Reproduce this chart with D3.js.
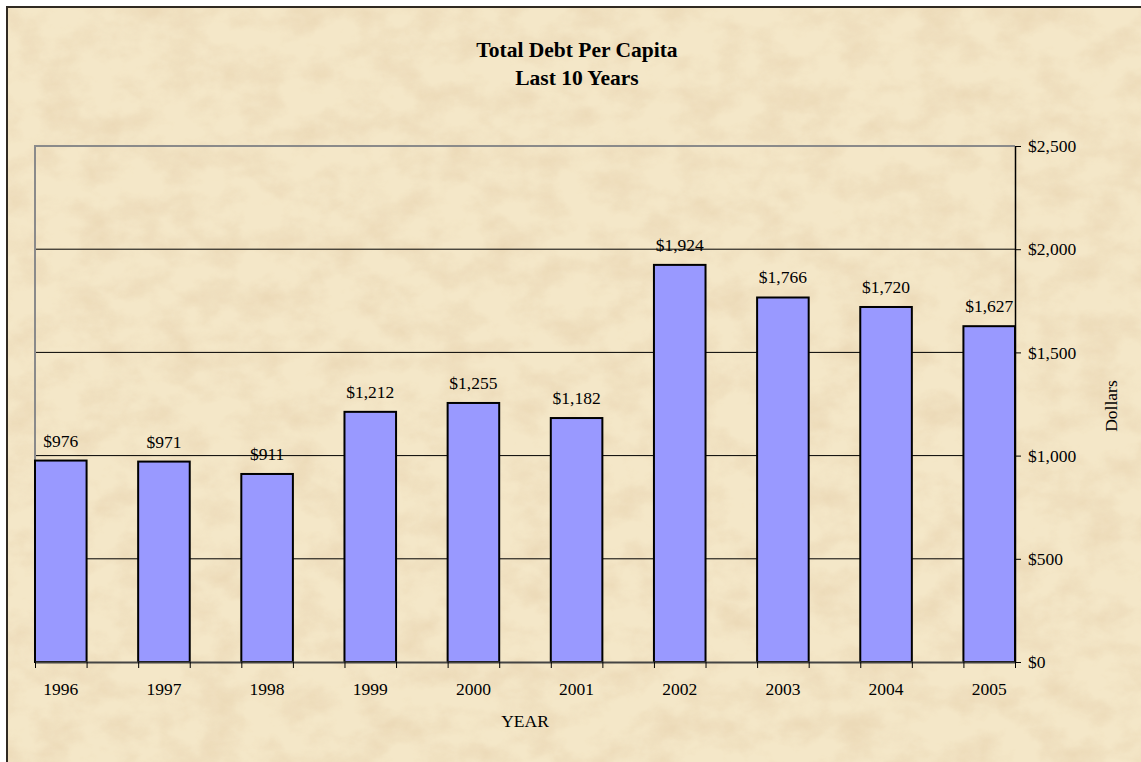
<html>
<head>
<meta charset="utf-8">
<script src="https://d3js.org/d3.v7.min.js"></script>
<style>
  body { margin: 0; background: white; }
  text { font-family: "Liberation Serif", "Times New Roman", serif; fill: #000; }
</style>
</head>
<body>
<svg id="chart" width="1141" height="762"></svg>
<script>
// data
var years = ["1996", "1997", "1998", "1999", "2000", "2001", "2002", "2003", "2004", "2005"];
var debt = [976, 971, 911, 1212, 1255, 1182, 1924, 1766, 1720, 1627];
var yTicks = [0, 500, 1000, 1500, 2000, 2500];
var title = ["Total Debt Per Capita", "Last 10 Years"];

var svg = d3.select("#chart");
var plotL = 35, plotR = 1015, plotT = 146, plotB = 662;
var fs = "17.5px";

// parchment background
var defs = svg.append("defs");
var f = defs.append("filter").attr("id", "paper")
  .attr("x", 0).attr("y", 0).attr("width", "100%").attr("height", "100%");
f.append("feTurbulence").attr("type", "fractalNoise")
  .attr("baseFrequency", "0.025 0.035").attr("numOctaves", 5).attr("seed", 7);
f.append("feColorMatrix").attr("type", "matrix")
  .attr("values", "0 0 0 0 0.82  0 0 0 0 0.67  0 0 0 0 0.45  0 0 0 -2 1.25");
f.append("feComposite").attr("in2", "SourceGraphic").attr("operator", "in");

svg.append("rect").attr("x", 6).attr("y", 6).attr("width", 1141).attr("height", 762)
  .attr("fill", "#f4e7c8");
svg.append("rect").attr("x", 6).attr("y", 6).attr("width", 1141).attr("height", 762)
  .attr("fill", "#f4e7c8").attr("filter", "url(#paper)").attr("opacity", 0.75);
svg.append("path").attr("d", "M7,762V7H1141")
  .attr("fill", "none").attr("stroke", "#302a22").attr("stroke-width", 2);

// 19 slots, bars on even slots (excel style)
var x = d3.scaleLinear().domain([0, years.length * 2 - 1]).range([plotL, plotR]);
var y = d3.scaleLinear().domain([0, 2500]).range([plotB, plotT]);

// gridlines
svg.append("g").selectAll("line")
  .data(yTicks.slice(1, -1))
  .enter().append("line")
  .attr("x1", plotL).attr("x2", plotR)
  .attr("y1", function(d) { return y(d); })
  .attr("y2", function(d) { return y(d); })
  .attr("stroke", "#000").attr("stroke-width", 1);

// plot frame (top and left in grey)
svg.append("path")
  .attr("d", "M" + plotL + "," + plotB + "V" + plotT + "H" + plotR)
  .attr("fill", "none").attr("stroke", "#8a8a8a").attr("stroke-width", 2);

// bars
svg.append("g").selectAll("rect")
  .data(debt)
  .enter().append("rect")
  .attr("x", function(d, i) { return x(i * 2); })
  .attr("y", function(d) { return y(d); })
  .attr("width", x(1) - x(0))
  .attr("height", function(d) { return y(0) - y(d); })
  .attr("fill", "#9999ff")
  .attr("stroke", "#000").attr("stroke-width", 2);

// value labels
svg.append("g").selectAll("text")
  .data(debt)
  .enter().append("text")
  .attr("x", function(d, i) { return x(i * 2 + 0.5); })
  .attr("y", function(d) { return y(d) - 14; })
  .attr("text-anchor", "middle")
  .style("font-size", fs)
  .text(function(d) { return d3.format("$,")(d); });

// x axis
var xAxis = svg.append("g")
  .attr("transform", "translate(0," + plotB + ")")
  .call(d3.axisBottom(x).tickValues(d3.range(0, 20)).tickSize(6).tickSizeOuter(0).tickFormat(""));
xAxis.select(".domain").attr("stroke", "#444").attr("stroke-width", 2);
xAxis.selectAll(".tick line").attr("stroke", "#000");

svg.append("g").selectAll("text")
  .data(years)
  .enter().append("text")
  .attr("x", function(d, i) { return x(i * 2 + 0.5); })
  .attr("y", plotB + 33)
  .attr("text-anchor", "middle")
  .style("font-size", fs)
  .text(function(d) { return d; });

svg.append("text")
  .attr("x", 525).attr("y", 727)
  .attr("text-anchor", "middle")
  .style("font-size", fs)
  .text("YEAR");

// y axis on the right
var yAxis = svg.append("g")
  .attr("transform", "translate(" + plotR + ",0)")
  .call(d3.axisRight(y).tickValues(yTicks).tickSize(6).tickSizeOuter(0).tickPadding(7)
    .tickFormat(function(d) { return d3.format("$,")(d); }));
yAxis.select(".domain").attr("stroke", "#000").attr("stroke-width", 1.5);
yAxis.selectAll(".tick line").attr("stroke", "#000");
yAxis.selectAll(".tick text")
  .style("font-family", "'Liberation Serif', serif").style("font-size", fs).attr("fill", "#000");

svg.append("text")
  .attr("transform", "translate(1117,406) rotate(-90)")
  .attr("text-anchor", "middle")
  .style("font-size", fs)
  .text("Dollars");

// title
svg.append("g").selectAll("text")
  .data(title)
  .enter().append("text")
  .attr("x", 577)
  .attr("y", function(d, i) { return 57 + i * 28; })
  .attr("text-anchor", "middle")
  .style("font-size", "21.5px").style("font-weight", "bold")
  .text(function(d) { return d; });
</script>
</body>
</html>
